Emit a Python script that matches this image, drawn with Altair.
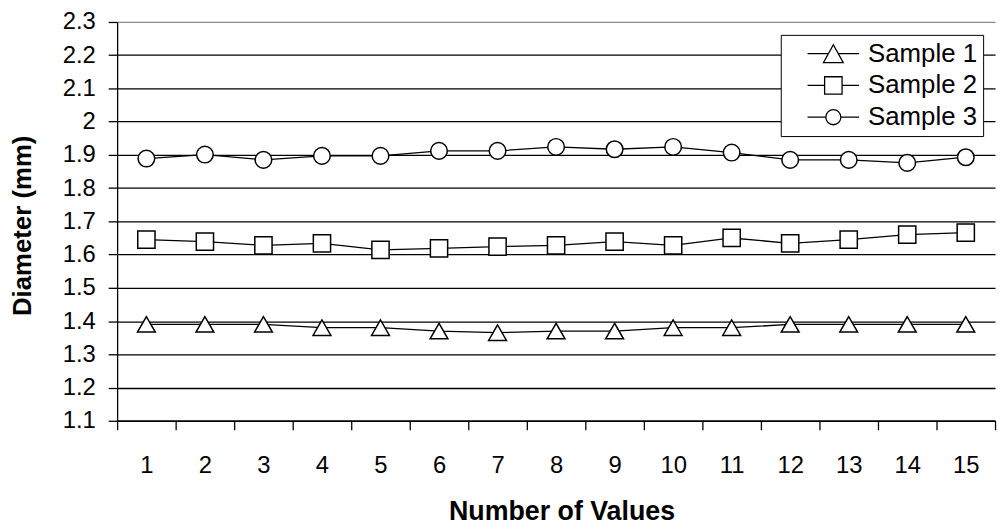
import altair as alt
import pandas as pd

samples = ["Sample 1", "Sample 2", "Sample 3"]
positions = list(range(1, 16))
sample1 = [1.39, 1.39, 1.39, 1.38, 1.38, 1.37, 1.365, 1.37, 1.37, 1.38, 1.38, 1.39, 1.39, 1.39, 1.39]
sample2 = [1.645, 1.639, 1.628, 1.634, 1.614, 1.619, 1.624, 1.628, 1.639, 1.628, 1.65, 1.634, 1.645, 1.66, 1.666]
sample3 = [1.889, 1.901, 1.885, 1.897, 1.897, 1.912, 1.912, 1.924, 1.917, 1.924, 1.907, 1.885, 1.885, 1.876, 1.893]
y_ticks = [1.1, 1.2, 1.3, 1.4, 1.5, 1.6, 1.7, 1.8, 1.9, 2.0, 2.1, 2.2, 2.3]

rows = []
for name, vals in zip(samples, [sample1, sample2, sample3]):
    for p, v in zip(positions, vals):
        rows.append({"n": p, "d": v, "s": name})
df = pd.DataFrame(rows)

x_tick_values = sorted([p - 0.5 for p in positions] + [positions[-1] + 0.5] + positions)

FONT = "Liberation Sans"

x_enc = alt.X(
    "n:Q",
    scale=alt.Scale(domain=[0.5, 15.5], nice=False, zero=False),
    axis=alt.Axis(
        values=x_tick_values,
        tickCount=200,
        title="Number of Values",
        labelExpr="datum.value % 1 == 0 ? format(datum.value, 'd') : ''",
        tickOpacity={"condition": {"test": "datum.value % 1 == 0", "value": 0}, "value": 1},
        grid=False,
        labelOverlap=False,
        labelFlush=False,
        tickSize=9,
        labelPadding=24,
        labelFontSize=24,
        labelFont=FONT,
        labelColor="black",
        titleFont=FONT,
        titleFontSize=27,
        titleFontWeight="bold",
        titleColor="black",
        titleX=448,
        titleY=92,
        titleAnchor="start",
        titleAlign="center",
        titleBaseline="middle",
        domainColor="black",
        domainWidth=1.3,
        tickColor="black",
        tickWidth=1.3,
    ),
)

y_enc = alt.Y(
    "d:Q",
    scale=alt.Scale(domain=[1.1, 2.3], nice=False, zero=False),
    axis=alt.Axis(
        values=y_ticks,
        tickCount=200,
        format="~g",
        title="Diameter (mm)",
        grid=True,
        gridColor={"condition": {"test": "datum.value > 2.25", "value": "#8a8a8a"}, "value": "black"},
        gridWidth=1.3,
        labelOverlap=False,
        tickSize=9,
        labelPadding=13,
        labelFontSize=24,
        labelFont=FONT,
        labelColor="black",
        titleFont=FONT,
        titleFontSize=26,
        titleFontWeight="bold",
        titleColor="black",
        titleAngle=270,
        titleX=-95,
        titleY=205,
        titleAlign="center",
        titleBaseline="middle",
        domainColor="black",
        domainWidth=1.3,
        tickColor="black",
        tickWidth=1.3,
    ),
)

base = alt.Chart(df)

lines = base.mark_line(color="black", strokeWidth=1.3).encode(
    x=x_enc, y=y_enc, detail="s:N"
)

points = base.mark_point(filled=True, fill="white", stroke="black", strokeWidth=1.5, opacity=1).encode(
    x="n:Q",
    y="d:Q",
    shape=alt.Shape("s:N", scale=alt.Scale(domain=samples, range=["triangle-up", "square", "circle"]), legend=None),
    size=alt.Size("s:N", scale=alt.Scale(domain=samples, range=[324, 280, 201]), legend=None),
)

legend_paths = [
    "M-3.25,0L-0.625,0M0.625,0L3.25,0M0,-1.125L1.25,1.125L-1.25,1.125Z",
    "M-3.25,0L-1.1,0M1.1,0L3.25,0M-1.1,-1.1L1.1,-1.1L1.1,1.1L-1.1,1.1Z",
    "M-3.25,0L-0.95,0M0.95,0L3.25,0M-0.95,0A0.95,0.95,0,1,0,0.95,0A0.95,0.95,0,1,0,-0.95,0Z",
]

legend_layer = base.transform_filter("false").mark_point(
    filled=False, stroke="black", strokeWidth=1.3, opacity=1
).encode(
    x="n:Q",
    y="d:Q",
    shape=alt.Shape(
        "s:N",
        scale=alt.Scale(domain=samples, range=legend_paths),
        legend=alt.Legend(
            title=None,
            orient="none",
            legendX=669,
            legendY=13,
            fillColor="white",
            strokeColor="black",
            padding=6,
            symbolSize=256,
            symbolFillColor="white",
            symbolStrokeColor="black",
            symbolStrokeWidth=1.3,
            symbolOffset=34,
            labelOffset=22,
            labelFont=FONT,
            labelFontSize=26,
            labelColor="black",
            labelLimit=400,
            rowPadding=6,
        ),
    ),
)

chart = (
    alt.layer(lines, points, legend_layer)
    .resolve_scale(shape="independent", size="independent")
    .properties(
        width=885,
        height=402,
        autosize=alt.AutoSizeParams(type="none"),
        padding={"left": 110, "top": 12, "right": 4, "bottom": 104},
        background="white",
    )
    .configure_view(stroke=None)
)

chart.save("out.html", embed_options={"renderer": "svg", "actions": False})
